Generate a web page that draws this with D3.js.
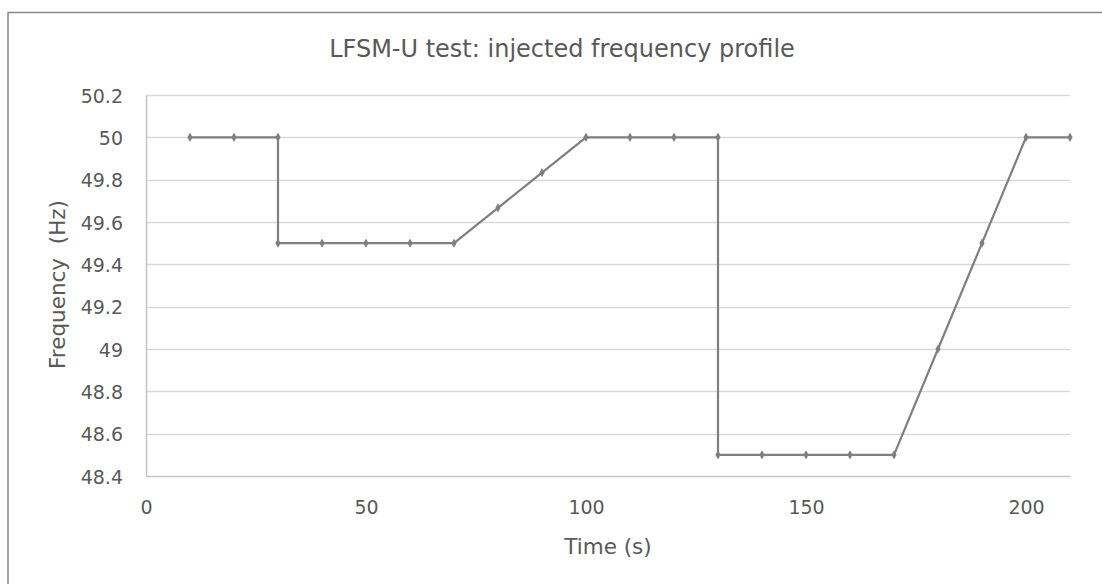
<!DOCTYPE html>
<html>
<head>
<meta charset="utf-8">
<script src="https://cdn.jsdelivr.net/npm/d3@7"></script>
<style>
  body { margin: 0; background: #fff; }
  text { font-family: "DejaVu Sans", Verdana, sans-serif; fill: #595959; }
</style>
</head>
<body>
<script>
// data
var times = [10, 20, 30, 30, 40, 50, 60, 70, 80, 90, 100, 110, 120, 130, 130, 140, 150, 160, 170, 180, 190, 200, 210];
var freqs = [50, 50, 50, 49.5, 49.5, 49.5, 49.5, 49.5, 49.667, 49.833, 50, 50, 50, 50, 48.5, 48.5, 48.5, 48.5, 48.5, 49, 49.5, 50, 50];
var xTicks = [0, 50, 100, 150, 200];
var yTicks = [48.4, 48.6, 48.8, 49, 49.2, 49.4, 49.6, 49.8, 50, 50.2];
var titleText = "LFSM-U test: injected frequency profile";
var xTitle = "Time (s)";
var yTitle = "Frequency  (Hz)";

main();

function main() {
  setupCanvasSize();
  appendSvg("body");
  setupScales();
  appendGrid();
  appendAxes();
  appendLine();
  addMarkers();
  addTitles();
}

function setupCanvasSize() {
  W = 1102; H = 584;
  margin = { top: 95, left: 146, bottom: 108, right: 32 };
  width = W - margin.left - margin.right;   // 924
  height = H - margin.top - margin.bottom;  // 381
}

function appendSvg(domElement) {
  root = d3.select(domElement).append("svg")
    .attr("width", W)
    .attr("height", H);

  // chart frame (runs off the right and bottom of the picture)
  root.append("rect")
    .attr("x", 8).attr("y", 12.5)
    .attr("width", W + 20).attr("height", H + 20)
    .attr("fill", "#fff")
    .attr("stroke", "#888")
    .attr("stroke-width", 1.5);

  svg = root.append("g")
    .attr("transform", `translate(${margin.left}, ${margin.top})`);
}

function setupScales() {
  x = d3.scaleLinear().domain([0, 210]).range([0, width]);
  y = d3.scaleLinear().domain([48.4, 50.2]).range([height, 0]);
}

function appendGrid() {
  svg.append("g")
    .selectAll("line")
    .data(yTicks.slice(1))
    .enter().append("line")
    .attr("x1", 0).attr("x2", width)
    .attr("y1", function (d) { return Math.round(y(d)) + 0.5; })
    .attr("y2", function (d) { return Math.round(y(d)) + 0.5; })
    .attr("stroke", "#d9d9d9")
    .attr("stroke-width", 1.3);
}

function appendAxes() {
  var xAxis = svg.append("g")
    .attr("transform", `translate(0, ${height})`)
    .call(d3.axisBottom(x).tickValues(xTicks).tickSize(0).tickPadding(25));
  xAxis.select(".domain").attr("stroke", "#c4c4c4").attr("stroke-width", 1.5);
  xAxis.selectAll("text").style("font-size", "19px").attr("fill", "#595959");

  var yAxis = svg.append("g")
    .call(d3.axisLeft(y).tickValues(yTicks).tickSize(0).tickPadding(23)
      .tickFormat(function (d) { return String(+d.toFixed(1)); }));
  yAxis.select(".domain").attr("stroke", "#c4c4c4").attr("stroke-width", 1.5);
  yAxis.selectAll("text").style("font-size", "19px").attr("fill", "#595959")
    .attr("dy", "0.38em");
}

function appendLine() {
  var pts = times.map(function (t, i) { return [t, freqs[i]]; });
  var valueline = d3.line()
    .x(function (d) { return x(d[0]); })
    .y(function (d) { return y(d[1]); });
  svg.append("path")
    .datum(pts)
    .attr("d", valueline)
    .attr("fill", "none")
    .attr("stroke", "#7f7f7f")
    .attr("stroke-width", 2.2)
    .attr("stroke-linejoin", "round");
}

// small diamond on every sample
function addMarkers() {
  var diamond = d3.symbol().type(d3.symbolDiamond).size(24);
  svg.selectAll(".mk")
    .data(times)
    .enter().append("path")
    .attr("class", "mk")
    .attr("d", diamond)
    .attr("transform", function (d, i) { return `translate(${x(d)}, ${y(freqs[i])})`; })
    .attr("fill", "#7f7f7f");
}

function addTitles() {
  root.append("text")
    .attr("x", 562).attr("y", 57)
    .attr("text-anchor", "middle")
    .style("font-size", "24px")
    .text(titleText);

  root.append("text")
    .attr("x", margin.left + width / 2).attr("y", 554)
    .attr("text-anchor", "middle")
    .style("font-size", "21.5px")
    .text(xTitle);

  root.append("text")
    .attr("transform", `translate(65, ${margin.top + height / 2 - 1}) rotate(-90)`)
    .attr("text-anchor", "middle")
    .attr("xml:space", "preserve")
    .style("white-space", "pre")
    .style("font-size", "21.5px")
    .text(yTitle);
}
</script>
</body>
</html>
